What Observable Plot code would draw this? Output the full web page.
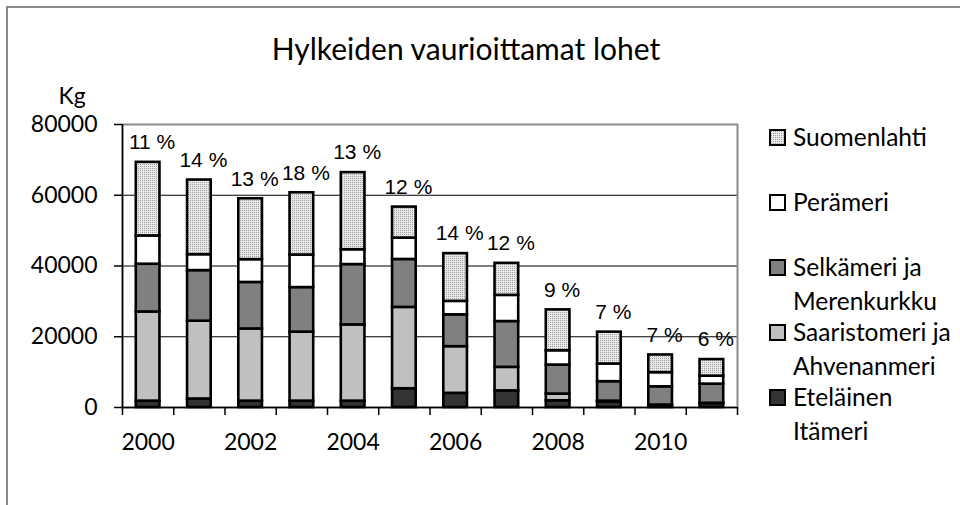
<!DOCTYPE html>
<html>
<head>
<meta charset="utf-8">
<script src="https://cdn.jsdelivr.net/npm/d3@7"></script>
<script src="https://cdn.jsdelivr.net/npm/@observablehq/plot@0.6"></script>
<style>
  html, body { margin: 0; padding: 0; background: #fff; }
  #chart { position: relative; width: 960px; height: 505px; overflow: hidden; background: #fff; font-family: Lato, "Open Sans", sans-serif; color: #000; }
  #frame { position: absolute; left: 6px; top: 6px; width: 1000px; height: 600px; border-left: 2px solid #8a8a8a; border-top: 2px solid #8a8a8a; }
  #title { position: absolute; left: 0; width: 932px; top: 30px; text-align: center; font-size: 30px; line-height: 36px; }
  #kg { position: absolute; left: 52px; width: 40px; top: 81px; text-align: center; font-size: 23px; line-height: 28px; }
  #plot { position: absolute; left: 0; top: 0; }
  .item { position: absolute; left: 769px; width: 190px; display: flex; align-items: flex-start; }
  .item svg { flex: none; margin-top: 9px; }
  .item span { margin-left: 7px; font-size: 24.5px; line-height: 34px; width: 168px; }
</style>
</head>
<body>
<div id="chart">
  <div id="frame"></div>
  <div id="title">Hylkeiden vaurioittamat lohet</div>
  <div id="kg">Kg</div>
  <div id="plot"></div>
  <div id="legend"></div>
</div>
<script>
// ---- data ----
const years = [2000, 2001, 2002, 2003, 2004, 2005, 2006, 2007, 2008, 2009, 2010, 2011];
const series = ["Eteläinen Itämeri", "Saaristomeri ja Ahvenanmeri", "Selkämeri ja Merenkurkku", "Perämeri", "Suomenlahti"];
const etelainen = [1800, 2400, 1800, 1800, 1800, 5300, 4000, 4700, 1900, 1600, 600, 1100];
const saaristomeri = [25200, 22000, 20400, 19500, 21550, 23000, 13200, 6650, 1900, 200, 100, 100];
const selkameri = [13500, 14300, 13150, 12600, 17050, 13550, 9000, 12950, 8200, 5500, 5150, 5400];
const peramei = [8000, 4500, 6450, 9200, 4200, 6050, 3800, 7400, 4050, 5000, 4000, 2250];
const suomenlahti = [20800, 21100, 17200, 17600, 21800, 8750, 13500, 9050, 11550, 9000, 5000, 4700];
const percents = [11, 14, 13, 18, 13, 12, 14, 12, 9, 7, 7, 6];
const yTicks = [0, 20000, 40000, 60000, 80000];
const xLabelYears = [2000, 2002, 2004, 2006, 2008, 2010];
const fills = ["#333333", "#c0c0c0", "#808080", "#ffffff", "url(#dots)"];

// ---- build stacked rows ----
const valuesBySeries = [etelainen, saaristomeri, selkameri, peramei, suomenlahti];
const rows = [];
const totals = years.map((year, i) => {
  let acc = 0;
  series.forEach((s, k) => {
    const v = valuesBySeries[k][i];
    rows.push({year, series: s, y1: acc, y2: acc + v});
    acc += v;
  });
  return acc;
});
const boundaries = [years[0] - 0.5, ...years.map(y => y + 0.5)];

const chart = Plot.plot({
  width: 960,
  height: 505,
  marginLeft: 122,
  marginRight: 223,
  marginTop: 124,
  marginBottom: 98,
  style: {fontFamily: "Lato, 'Open Sans', sans-serif", fontSize: "23px", background: "transparent", color: "#000", overflow: "visible"},
  x: {type: "linear", domain: [years[0] - 0.5, years[years.length - 1] + 0.5]},
  y: {domain: [0, 80000]},
  color: {type: "ordinal", domain: series, range: fills},
  marks: [
    Plot.ruleY(yTicks.slice(1, -1), {stroke: "#000", strokeWidth: 1.2}),
    Plot.frame({stroke: "#8a8a8a", strokeWidth: 2}),
    Plot.rect(rows, {
      x1: d => d.year - 0.5, x2: d => d.year + 0.5, y1: "y1", y2: "y2",
      fill: "series", stroke: "#000", strokeWidth: 2.6, insetLeft: 13.8, insetRight: 13.8
    }),
    Plot.ruleX([years[0] - 0.5], {stroke: "#000", strokeWidth: 1.5}),
    Plot.ruleY([0], {stroke: "#000", strokeWidth: 1.5}),
    Plot.axisY({ticks: yTicks, tickFormat: d => String(d), tickSize: 8, tickPadding: 17, fontSize: 23, stroke: "#000", strokeWidth: 1.5}),
    Plot.axisX({ticks: boundaries, tickFormat: () => "", tickSize: 8, stroke: "#000", strokeWidth: 1.5}),
    Plot.axisX({ticks: xLabelYears, tickFormat: d => String(d), tickSize: 0, tickPadding: 26, fontSize: 23}),
    Plot.text(years, {
      x: d => d, y: (d, i) => totals[i], text: (d, i) => percents[i] + " %",
      dy: -20, dx: 4, fontSize: 21, fontFamily: "'Liberation Sans', Arial, sans-serif", fill: "#000"
    })
  ]
});

// pattern definition for the dotted series
const ns = "http://www.w3.org/2000/svg";
const defs = document.createElementNS(ns, "defs");
defs.innerHTML = `<pattern id="dots" width="2" height="2" patternUnits="userSpaceOnUse">
  <rect width="2" height="2" fill="#e8e8e8"></rect>
  <rect width="1" height="1" fill="#a0a0a0"></rect>
</pattern>`;
chart.insertBefore(defs, chart.firstChild);
document.getElementById("plot").appendChild(chart);

// ---- legend (top to bottom: reverse of stacking order) ----
const legend = document.getElementById("legend");
series.slice().reverse().forEach((s, i) => {
  const k = series.indexOf(s);
  const item = document.createElement("div");
  item.className = "item";
  item.style.top = (120 + 65 * i) + "px";
  item.innerHTML = `<svg width="17" height="17"><rect x="1" y="1" width="15" height="15" fill="${fills[k]}" stroke="#000" stroke-width="2"></rect></svg><span>${s}</span>`;
  legend.appendChild(item);
});
</script>
</body>
</html>
